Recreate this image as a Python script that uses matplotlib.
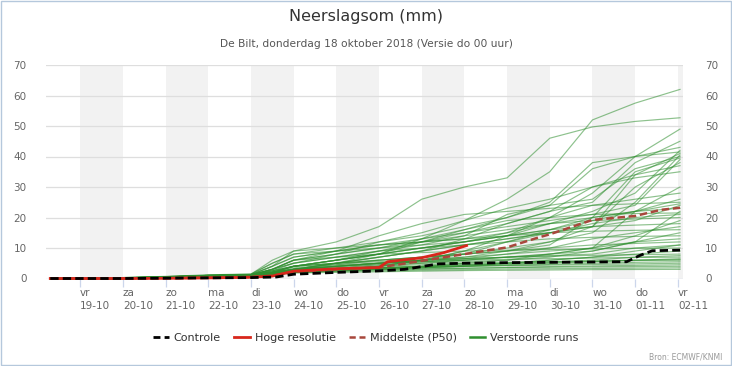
import matplotlib
matplotlib.use("Agg")
import matplotlib.pyplot as plt
from matplotlib.lines import Line2D
from matplotlib.patches import Rectangle

# time axis in days relative to 19-10 00 uur
days = [-0.7, 0, 1, 2, 3, 4, 4.5, 5, 6, 7, 8, 9, 10, 11, 12, 13, 14.05]

tick_days = list(range(15))
weekdays = ["vr", "za", "zo", "ma", "di", "wo", "do", "vr", "za", "zo", "ma", "di", "wo", "do", "vr"]
dates = ["19-10", "20-10", "21-10", "22-10", "23-10", "24-10", "25-10", "26-10",
         "27-10", "28-10", "29-10", "30-10", "31-10", "01-11", "02-11"]

controle_t = [-0.7, 0, 1, 2, 3, 4, 4.6, 5, 6, 7, 7.6, 8.4, 9, 10, 11, 12.8, 13.1, 13.4, 14.05]
controle = [0, 0, 0, 0.1, 0.2, 0.3, 0.5, 1.4, 2.0, 2.5, 3.0, 4.8, 5.0, 5.2, 5.3, 5.5, 7.5, 9.1, 9.3]

hoge_t = [-0.7, 0, 1, 2, 3, 4, 4.5, 5, 6, 7, 7.2, 7.5, 8, 8.5, 9.05]
hoge = [0, 0, 0, 0.05, 0.2, 0.4, 0.8, 2.4, 3.2, 3.6, 5.5, 6.0, 6.8, 8.4, 10.8]

p50_t = [-0.7, 0, 1, 2, 3, 4, 4.5, 5, 6, 7, 8, 9, 10, 10.7, 11, 12, 13, 13.6, 14.05]
p50 = [0, 0, 0, 0.1, 0.3, 0.5, 0.9, 2.2, 3.0, 3.6, 5.8, 8.0, 10.2, 13.3, 14.5, 19.2, 20.5, 22.5, 23.2]

members = [
    [0, 0, 0.2, 0.5, 0.8, 1.0, 1.5, 3, 5, 8, 13, 19, 26, 35, 52, 57.5, 62],
    [0, 0, 0.3, 0.6, 1.0, 1.2, 4, 9, 12, 17, 26, 30, 33, 46, 49.7, 51.5, 52.7],
    [0, 0, 0.1, 0.4, 0.8, 1.0, 2, 4, 6, 8, 10, 12, 14, 20, 28, 40, 49],
    [0, 0, 0, 0.3, 0.6, 0.8, 1.5, 3, 5, 7, 9, 13, 18, 22, 25, 38, 45],
    [0, 0, 0.2, 0.5, 1.0, 1.3, 3, 6, 8, 10, 12, 16, 20, 24, 36, 40, 43],
    [0, 0, 0, 0.2, 0.5, 0.7, 1, 2, 3, 4, 6, 9, 14, 18, 22, 28, 42],
    [0, 0, 0.3, 0.7, 1.2, 1.5, 5, 8, 10, 12, 14, 17, 20, 25, 38, 40, 41.5],
    [0, 0, 0, 0.3, 0.7, 1.0, 2, 3, 4.5, 6, 7, 8, 10, 12, 15, 25, 40.5],
    [0, 0, 0.1, 0.4, 0.9, 1.2, 3, 5, 7, 9, 11, 14, 21, 24, 26, 36, 40],
    [0, 0, 0, 0.2, 0.6, 0.8, 1.5, 2.5, 4, 5, 6, 7, 9, 11, 20, 35, 39.5],
    [0, 0, 0.2, 0.5, 1.0, 1.3, 4, 7, 9, 11, 13, 15, 17, 19, 21, 24, 39],
    [0, 0, 0, 0.3, 0.8, 1.0, 2, 4, 5, 6, 7, 8, 9, 12, 17, 30, 38],
    [0, 0, 0.1, 0.4, 0.8, 1.1, 2.5, 5, 8, 12, 15, 19, 23, 26, 30, 34, 37],
    [0, 0, 0, 0.2, 0.5, 0.7, 1.2, 2, 3, 4, 5, 6, 7, 8, 10, 22, 30],
    [0, 0, 0.3, 0.6, 1.1, 1.4, 6, 9, 10, 11, 12, 13, 15, 20, 24, 26, 28],
    [0, 0, 0, 0.3, 0.7, 0.9, 2, 3, 4, 5, 6, 8, 12, 16, 19, 22, 26],
    [0, 0, 0.1, 0.5, 1.0, 1.2, 3, 6, 9, 14, 18, 21, 22, 23, 24, 24.5, 25],
    [0, 0, 0, 0.2, 0.6, 0.8, 1.5, 3, 5, 7, 9, 11, 13, 15, 17, 19, 24],
    [0, 0, 0.2, 0.5, 0.9, 1.1, 2, 4, 6, 8, 10, 12, 14, 16, 20, 22, 23],
    [0, 0, 0, 0.3, 0.7, 1.0, 2, 3, 4, 5, 5.5, 6, 7, 8, 9, 12, 22],
    [0, 0, 0.1, 0.4, 0.8, 1.0, 3, 6, 8, 10, 13, 16, 19, 20, 21, 21.3, 21.5],
    [0, 0, 0, 0.2, 0.5, 0.7, 1, 2, 3, 4, 6, 9, 12, 15, 18, 20, 21],
    [0, 0, 0.2, 0.6, 1.0, 1.3, 5, 8, 9, 10, 11, 12, 15, 18, 19, 19.5, 20],
    [0, 0, 0, 0.3, 0.7, 0.9, 2, 3, 4, 5, 6, 7, 8, 9, 10, 14, 19],
    [0, 0, 0.1, 0.4, 0.9, 1.1, 2, 4, 6, 8, 10, 12, 14, 16, 17, 17.5, 18],
    [0, 0, 0, 0.2, 0.6, 0.8, 1.5, 2.5, 3.5, 4.5, 5.5, 6.5, 8, 10, 13, 15, 17],
    [0, 0, 0.2, 0.5, 1.0, 1.2, 4, 7, 9, 11, 12, 13, 14, 15, 15.5, 15.8, 16],
    [0, 0, 0, 0.3, 0.7, 0.9, 2, 3, 4, 4.5, 5, 5.5, 6, 7, 9, 12, 15],
    [0, 0, 0.1, 0.4, 0.8, 1.0, 3, 5, 7, 9, 10, 11, 12, 13, 13.5, 13.8, 14],
    [0, 0, 0, 0.2, 0.5, 0.7, 1.2, 2, 3, 3.5, 4, 5, 6, 8, 10, 12, 13],
    [0, 0, 0.2, 0.6, 1.0, 1.2, 2.5, 4, 5, 6, 7, 8, 9, 10, 11, 11.5, 12],
    [0, 0, 0, 0.3, 0.6, 0.8, 1.5, 2.5, 3, 3.5, 4, 4.5, 5, 6, 7, 9, 11],
    [0, 0, 0.1, 0.4, 0.9, 1.1, 3, 6, 7, 8, 8.5, 9, 9.3, 9.5, 9.7, 9.9, 10],
    [0, 0, 0, 0.2, 0.5, 0.7, 1.2, 2, 2.5, 3, 3.5, 4, 5, 6, 7, 8, 9],
    [0, 0, 0.2, 0.5, 1.0, 1.2, 2.5, 4, 5, 5.5, 6, 6.5, 7, 7.3, 7.6, 7.8, 8],
    [0, 0, 0, 0.3, 0.7, 0.9, 1.5, 2.5, 3, 3.5, 4, 4.5, 5, 5.5, 6, 7, 7.5],
    [0, 0, 0.1, 0.4, 0.8, 1.0, 2, 3.5, 4.5, 5, 5.5, 6, 6.3, 6.5, 6.7, 6.9, 7],
    [0, 0, 0, 0.2, 0.5, 0.7, 1.2, 2, 2.5, 3, 3.5, 4, 4.5, 5, 5.5, 6, 6.5],
    [0, 0, 0.2, 0.5, 0.9, 1.1, 2, 3, 3.5, 4, 4.5, 5, 5.3, 5.5, 5.7, 5.9, 6],
    [0, 0, 0, 0.3, 0.6, 0.8, 1.5, 2.5, 3, 3.3, 3.6, 4, 4.3, 4.6, 5, 5.3, 5.5],
    [0, 0, 0.1, 0.4, 0.8, 1.0, 1.8, 2.8, 3.2, 3.5, 3.8, 4, 4.2, 4.4, 4.6, 4.8, 5],
    [0, 0, 0, 0.2, 0.5, 0.7, 1.2, 2, 2.5, 2.8, 3, 3.3, 3.6, 3.9, 4.1, 4.3, 4.5],
    [0, 0, 0.2, 0.5, 0.9, 1.1, 1.8, 2.5, 2.8, 3, 3.2, 3.4, 3.6, 3.7, 3.8, 3.9, 4],
    [0, 0, 0, 0.3, 0.6, 0.8, 1.3, 2, 2.3, 2.5, 2.7, 2.9, 3.1, 3.2, 3.3, 3.4, 3.5],
    [0, 0, 0.1, 0.4, 0.7, 0.9, 1.3, 1.8, 2, 2.2, 2.4, 2.6, 2.7, 2.8, 2.9, 2.95, 3],
    [0, 0, 0, 0.3, 0.6, 0.8, 1.8, 3, 4, 5, 6, 6.5, 7, 7.5, 8, 10, 11],
    [0, 0, 0.2, 0.5, 0.9, 1.1, 2.5, 4, 6, 8, 12, 15, 18, 22, 30, 33, 35],
    [0, 0, 0, 0.2, 0.6, 0.8, 1.5, 3, 5, 7, 9, 11, 13, 15, 17, 34, 41],
    [0, 0, 0.1, 0.4, 0.8, 1.0, 2, 4, 6, 9, 12, 14, 16, 18, 20, 22, 24.5],
    [0, 0, 0, 0.3, 0.7, 0.9, 1.5, 2.2, 2.8, 3.3, 3.8, 4.3, 4.8, 5.2, 5.6, 6, 6.2],
]

green = "#2f8f2f"
red = "#d8271c"
p50_color = "#a8473c"
label_color = "#666666"

fig = plt.figure(figsize=(7.32, 3.66), dpi=100)
ax = fig.add_axes([46 / 732, 1 - 278.5 / 366, 637 / 732, 213.5 / 366])

# alternating day bands
for d in range(0, 15, 2):
    ax.axvspan(d, min(d + 1, 14.12), color="#f2f2f2", lw=0, zorder=0)
for yv in range(10, 80, 10):
    ax.axhline(yv, color="#dedede", lw=0.9, zorder=1)

for m in members:
    ax.plot(days, m, color=green, lw=0.85, alpha=0.55, zorder=2, clip_on=False)
ax.plot(p50_t, p50, color=p50_color, lw=1.8, ls=(0, (3, 1.5)), zorder=4, clip_on=False)
ax.plot(hoge_t, hoge, color=red, lw=2.0, zorder=5, clip_on=False)
ax.plot(controle_t, controle, color="black", lw=2.0, ls=(0, (3, 1.5)), zorder=6, clip_on=False)

ax.set_xlim(-0.8, 14.12)
ax.set_ylim(0, 70)
for s in ax.spines.values():
    s.set_visible(False)
ax.axhline(0, color="#ccd6eb", lw=0.9, zorder=1)

ax.set_yticks(range(0, 80, 10))
ax.tick_params(axis="y", length=0, pad=14, labelsize=7.5, labelcolor=label_color)
ax.set_xticks(tick_days)
ax.set_xticklabels([f"{w}\n{d}" for w, d in zip(weekdays, dates)], ha="left",
                   fontsize=7.5, color=label_color, linespacing=1.3)
ax.tick_params(axis="x", length=6, width=0.9, color="#ccd6eb", pad=1)

ax2 = ax.twinx()
ax2.set_ylim(0, 70)
ax2.set_yticks(range(0, 80, 10))
ax2.tick_params(axis="y", length=0, pad=16, labelsize=7.5, labelcolor=label_color)
for s in ax2.spines.values():
    s.set_visible(False)

fig.text(0.5, 1 - 17 / 366, "Neerslagsom (mm)", ha="center", va="center", fontsize=11.5, color="#333333")
fig.text(0.5, 1 - 44 / 366, "De Bilt, donderdag 18 oktober 2018 (Versie do 00 uur)",
         ha="center", va="center", fontsize=7.7, color="#555555")
fig.text(722 / 732, 1 - 357 / 366, "Bron: ECMWF/KNMI", ha="right", va="center", fontsize=5.5, color="#999999")

handles = [
    Line2D([0], [0], color="black", lw=2.0, ls=(0, (2.5, 1.5))),
    Line2D([0], [0], color=red, lw=2.0),
    Line2D([0], [0], color=p50_color, lw=1.8, ls=(0, (2.5, 1.5))),
    Line2D([0], [0], color=green, lw=1.8),
]
labels = ["Controle", "Hoge resolutie", "Middelste (P50)", "Verstoorde runs"]
fig.legend(handles, labels, loc="center", bbox_to_anchor=(0.5, 1 - 338 / 366), ncol=4,
           frameon=False, fontsize=8, handlelength=1.4, handletextpad=0.45, columnspacing=1.2,
           labelcolor="#333333")

fig.patches.append(Rectangle((0.001, 0.002), 0.997, 0.995, transform=fig.transFigure,
                             fill=False, edgecolor="#b5c8dc", lw=1.0))

fig.savefig("out.png", dpi=100)
